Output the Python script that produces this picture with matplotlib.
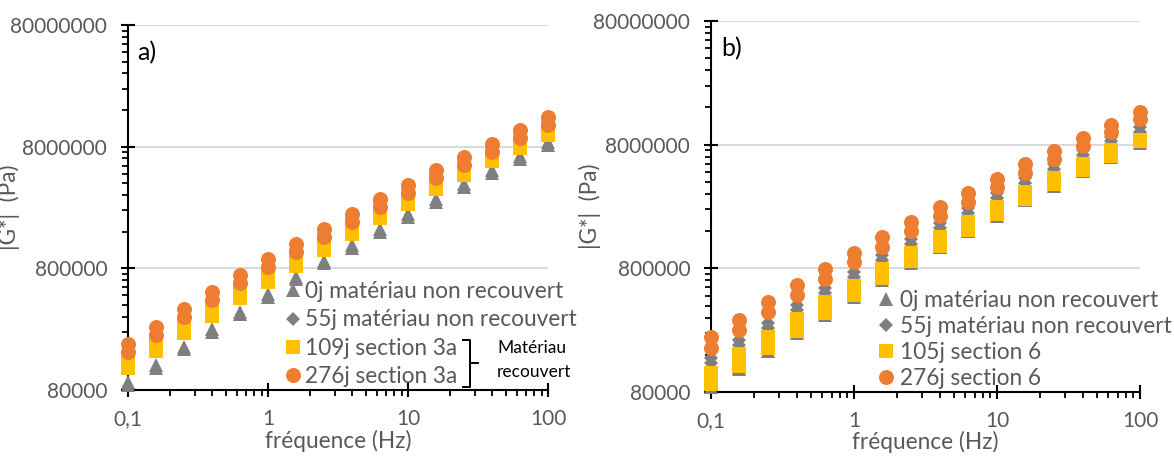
import matplotlib
matplotlib.use("Agg")
import matplotlib.pyplot as plt
from matplotlib.lines import Line2D
from matplotlib.ticker import FixedLocator, NullFormatter, LogLocator

plt.rcParams['font.family'] = ['Lato', 'DejaVu Sans']

# ---------------- data ----------------
freq = [0.1, 0.158, 0.251, 0.398, 0.631, 1, 1.58, 2.51, 3.98, 6.31,
        10, 15.8, 25.1, 39.8, 63.1, 100]

# 0j matériau non recouvert (two replicate sweeps)
g0_a = [93000, 128000, 181000, 252000, 352000, 489000, 680000, 924000,
        1240000, 1670000, 2230000, 2970000, 3930000, 5130000, 6690000, 8700000]
g0_b = [88000, 122000, 173000, 241000, 336000, 466000, 648000, 880000,
        1180000, 1590000, 2120000, 2830000, 3740000, 4890000, 6370000, 8300000]

# 55j matériau non recouvert
g55_a = [150000, 211000, 291000, 405000, 552000, 753000, 1026000, 1380000,
         1850000, 2450000, 3240000, 4290000, 5560000, 7260000, 9310000, 11200000]
g55_b = [137000, 192000, 265000, 369000, 503000, 687000, 936000, 1260000,
         1690000, 2230000, 2950000, 3910000, 5070000, 6620000, 8490000, 10200000]

# panel a) 109j section 3a
s109_a = [149000, 207000, 289000, 402000, 557000, 765000, 1030000, 1400000,
          1890000, 2530000, 3350000, 4390000, 5720000, 7450000, 9600000, 12300000]
s109_b = [121000, 168000, 235000, 327000, 453000, 622000, 841000, 1140000,
          1540000, 2060000, 2720000, 3570000, 4650000, 6060000, 7800000, 10000000]

# panel a) 276j section 3a
c276a_a = [191000, 265000, 368000, 511000, 700000, 948000, 1260000, 1680000,
           2250000, 2990000, 3870000, 5110000, 6620000, 8410000, 10960000, 14100000]
c276a_b = [164000, 228000, 316000, 440000, 602000, 815000, 1080000, 1440000,
           1940000, 2570000, 3330000, 4400000, 5690000, 7230000, 9400000, 12100000]

# panel b) 105j section 6
s105_a = [115000, 162000, 224000, 312000, 425000, 580000, 791000, 1070000,
          1430000, 1890000, 2500000, 3300000, 4290000, 5600000, 7180000, 8650000]
s105_b = [92900, 130000, 180000, 251000, 347000, 487000, 673000, 918000,
          1220000, 1640000, 2210000, 2920000, 3860000, 5010000, 6500000, 8490000]

# panel b) 276j section 6
c276b_a = [223000, 308000, 428000, 584000, 791000, 1070000, 1440000, 1900000,
           2510000, 3260000, 4260000, 5530000, 7130000, 9100000, 11600000, 14600000]
c276b_b = [182000, 253000, 353000, 483000, 657000, 893000, 1200000, 1590000,
           2110000, 2760000, 3620000, 4720000, 6130000, 7870000, 10100000, 12800000]

labels_a = ["0j matériau non recouvert", "55j matériau non recouvert",
            "109j section 3a", "276j section 3a"]
labels_b = ["0j matériau non recouvert", "55j matériau non recouvert",
            "105j section 6", "276j section 6"]

y_ticks = [80000, 800000, 8000000, 80000000]
y_ticklabels = ["80000", "800000", "8000000", "80000000"]
x_ticks = [0.1, 1, 10, 100]
x_ticklabels = ["0,1", "1", "10", "100"]

# ---------------- style ----------------
GRAY = "#7F7F7F"
YELLOW = "#FFC000"
ORANGE = "#ED7D31"
TXT = "#595959"
FS = 15       # tick labels
FL = 16.3     # legend / axis titles

W, H = 1174, 457
fig = plt.figure(figsize=(W / 100, H / 100), dpi=100)


def px_axes(x0, x1, ytop, ybot):
    return fig.add_axes([x0 / W, 1 - ybot / H, (x1 - x0) / W, (ybot - ytop) / H])


def style_axes(ax):
    ax.set_xscale("log")
    ax.set_yscale("log")
    ax.set_xlim(0.1, 100)
    ax.set_ylim(80000, 80000000)
    for s in ("top", "right"):
        ax.spines[s].set_visible(False)
    for s in ("left", "bottom"):
        ax.spines[s].set_linewidth(1.5)
        ax.spines[s].set_color("black")
        ax.spines[s].set_zorder(2.5)
    ax.set_yticks(y_ticks)
    ax.set_yticklabels(y_ticklabels)
    minors = [v * k for v in y_ticks[:-1] for k in range(2, 10)]
    ax.yaxis.set_minor_locator(FixedLocator(minors))
    ax.yaxis.set_minor_formatter(NullFormatter())
    ax.set_xticks(x_ticks)
    ax.set_xticklabels(x_ticklabels)
    ax.xaxis.set_minor_locator(LogLocator(base=10, subs=range(2, 10)))
    ax.xaxis.set_minor_formatter(NullFormatter())
    ax.tick_params(which="major", direction="inout", length=10, width=1.5,
                   color="black", labelsize=FS, labelcolor=TXT)
    ax.tick_params(axis="y", which="major", pad=10)
    ax.tick_params(axis="x", which="major", pad=9)
    ax.tick_params(which="minor", direction="out", length=4, width=1.3, color="black")
    ax.grid(True, axis="y", which="major", color="#D9D9D9", linewidth=1.4)
    ax.grid(False, axis="x")
    ax.set_axisbelow(True)
    ax.set_ylabel("|G*|  (Pa)", fontsize=FL, color=TXT)
    ax.set_xlabel("fréquence (Hz)", fontsize=FL, color=TXT)


def plot_series(ax, ya, yb, marker, color, ms, label):
    h, = ax.plot(freq + freq, ya + yb, linestyle="none", marker=marker,
                 color=color, markersize=ms, markeredgewidth=0,
                 clip_on=False, zorder=3, label=label)
    return h


# ---------------- panel a ----------------
ax1 = px_axes(128, 548, 25, 390)
style_axes(ax1)
ha = [
    plot_series(ax1, g0_a, g0_b, "^", GRAY, 10.5, labels_a[0]),
    plot_series(ax1, g55_a, g55_b, "D", GRAY, 6.8, labels_a[1]),
    plot_series(ax1, s109_a, s109_b, "s", YELLOW, 10.5, labels_a[2]),
    plot_series(ax1, c276a_a, c276a_b, "o", ORANGE, 10.8, labels_a[3]),
]
ax1.yaxis.set_label_coords(-0.257, 0.5)
ax1.xaxis.set_label_coords(0.5, -0.108)
ax1.text(0.022, 0.925, "a)", transform=ax1.transAxes, fontsize=18,
         color="black", va="center", ha="left")
leg1 = ax1.legend(handles=ha, loc="upper left",
                  bbox_to_anchor=(284 / W, 1 - 281 / H),
                  bbox_transform=fig.transFigure, frameon=False,
                  fontsize=FL, handlelength=0.8, handletextpad=0.13,
                  borderpad=0, borderaxespad=0, labelspacing=0.33,
                  numpoints=1)
for t in leg1.get_texts():
    t.set_color(TXT)

# bracket and annotation
bx = [463, 470, 470, 463]
by = [340, 340, 387, 387]
fig.add_artist(Line2D([x / W for x in bx], [1 - y / H for y in by],
                      color="black", linewidth=1.4))
fig.add_artist(Line2D([470 / W, 478 / W], [1 - 363 / H, 1 - 363 / H],
                      color="black", linewidth=1.4))
fig.text(497 / W, 1 - 348 / H, "Matériau", fontsize=12.5, color="black",
         va="center", ha="left")
fig.text(497 / W, 1 - 372 / H, "recouvert", fontsize=12.5, color="black",
         va="center", ha="left")

# ---------------- panel b ----------------
ax2 = px_axes(711, 1140, 21, 392)
style_axes(ax2)
hb = [
    plot_series(ax2, g0_a, g0_b, "^", GRAY, 10.5, labels_b[0]),
    plot_series(ax2, g55_a, g55_b, "D", GRAY, 6.8, labels_b[1]),
    plot_series(ax2, s105_a, s105_b, "s", YELLOW, 10.5, labels_b[2]),
    plot_series(ax2, c276b_a, c276b_b, "o", ORANGE, 10.8, labels_b[3]),
]
ax2.yaxis.set_label_coords(-0.256, 0.5)
ax2.xaxis.set_label_coords(0.5, -0.105)
ax2.text(0.025, 0.925, "b)", transform=ax2.transAxes, fontsize=18,
         color="black", va="center", ha="left")
leg2 = ax2.legend(handles=hb, loc="upper left",
                  bbox_to_anchor=(877 / W, 1 - 290 / H),
                  bbox_transform=fig.transFigure, frameon=False,
                  fontsize=FL, handlelength=0.8, handletextpad=0.2,
                  borderpad=0, borderaxespad=0, labelspacing=0.22,
                  numpoints=1)
for t in leg2.get_texts():
    t.set_color(TXT)

fig.savefig("out.png", dpi=100)
